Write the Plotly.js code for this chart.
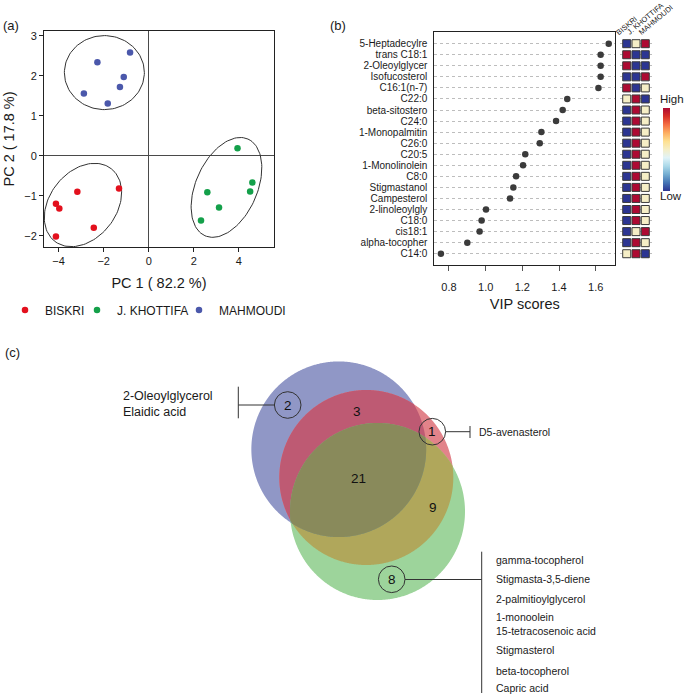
<!DOCTYPE html>
<html><head><meta charset="utf-8">
<script src="https://cdn.plot.ly/plotly-3.0.1.min.js"></script>
<style>html,body{margin:0;padding:0;background:#fff}#chart{width:685px;height:696px}</style>
</head><body><div id="chart"></div>
<script>
// ---------------- DATA ----------------
// (a) PCA scores
const groups = ['BISKRI', 'J. KHOTTIFA', 'MAHMOUDI'];
const biskriPC1 = [-4.12, -3.97, -3.17, -1.32, -2.44, -4.12];
const biskriPC2 = [-1.20, -1.32, -0.90, -0.82, -1.80, -2.02];
const khottifaPC1 = [3.94, 4.60, 4.50, 2.60, 3.12, 2.32];
const khottifaPC2 = [0.19, -0.67, -0.89, -0.91, -1.29, -1.62];
const mahmoudiPC1 = [-2.28, -0.83, -1.11, -1.28, -2.88, -1.82];
const mahmoudiPC2 = [2.34, 2.58, 1.97, 1.72, 1.56, 1.31];
const pcaXTicks = [-4, -2, 0, 2, 4];
const pcaYTicks = [-2, -1, 0, 1, 2, 3];

// (b) VIP scores
const compounds = ['5-Heptadecylre', 'trans C18:1', '2-Oleoylglycer', 'Isofucosterol', 'C16:1(n-7)',
  'C22:0', 'beta-sitostero', 'C24:0', '1-Monopalmitin', 'C26:0', 'C20:5', '1-Monolinolein', 'C8:0',
  'Stigmastanol', 'Campesterol', '2-linoleoylgly', 'C18:0', 'cis18:1', 'alpha-tocopher', 'C14:0'];
const vipScores = [1.671, 1.627, 1.627, 1.627, 1.615, 1.445, 1.420, 1.384, 1.304, 1.295, 1.216, 1.204,
  1.166, 1.151, 1.133, 1.002, 0.978, 0.967, 0.900, 0.756];
const vipTicks = [0.8, 1.0, 1.2, 1.4, 1.6];
// relative level per group: 0 = low, 1 = middle, 2 = high
const heatBiskri   = [0, 2, 2, 0, 2, 1, 0, 0, 0, 0, 0, 0, 0, 0, 0, 0, 0, 0, 0, 1];
const heatKhottifa = [1, 0, 0, 0, 0, 2, 2, 2, 2, 2, 2, 2, 2, 2, 2, 2, 2, 1, 2, 2];
const heatMahmoudi = [2, 0, 0, 2, 1, 0, 1, 1, 1, 1, 1, 1, 1, 1, 1, 1, 1, 2, 1, 0];

// (c) Venn diagram
const vennRegionCounts = ['2', '3', '1', '21', '9', '8'];
const onlyMahmoudi = ['2-Oleoylglycerol', 'Elaidic acid'];
const onlyBiskri = ['D5-avenasterol'];
const onlyKhottifa = ['gamma-tocopherol', 'Stigmasta-3,5-diene', '2-palmitioylglycerol', '1-monoolein',
  '15-tetracosenoic acid', 'Stigmasterol', 'beta-tocopherol', 'Capric acid'];

// ---------------- LAYOUT / STYLE ----------------
const W = 685, H = 696;
const FONT = "Arial, 'Liberation Sans', sans-serif";
const TXT = '#1a1a1a';
const px = v => v / W;
const py = v => 1 - v / H;
const groupColors = ['#e3101d', '#14a04a', '#4b58ab'];

const pcaDom = {x0: 44, x1: 274, y0: 31, y1: 247};
const pcaXRange = [-4.65, 5.56], pcaYRange = [-2.28, 3.12];
const pxPerX = (pcaDom.x1 - pcaDom.x0) / (pcaXRange[1] - pcaXRange[0]);
const pxPerY = (pcaDom.y1 - pcaDom.y0) / (pcaYRange[1] - pcaYRange[0]);

function ellipse(cx, cy, a, b, deg) {
  const th = deg * Math.PI / 180, xs = [], ys = [];
  for (let i = 0; i <= 120; i++) {
    const t = 2 * Math.PI * i / 120;
    const dx = a * Math.cos(t) * Math.cos(th) - b * Math.sin(t) * Math.sin(th);
    const dy = a * Math.cos(t) * Math.sin(th) + b * Math.sin(t) * Math.cos(th);
    xs.push(cx + dx / pxPerX); ys.push(cy + dy / pxPerY);
  }
  return {xs, ys};
}
// confidence ellipse geometry (centre in data units, semi-axes in px, angle)
const ellipseGeom = [
  {cx: -2.92, cy: -1.23, a: 46, b: 33.4, deg: 52},
  {cx: 3.45, cy: -0.79, a: 52.9, b: 30.7, deg: 66},
  {cx: -1.97, cy: 2.08, a: 40, b: 37, deg: 0}
];

const traces = [];
const pcaX = [biskriPC1, khottifaPC1, mahmoudiPC1];
const pcaY = [biskriPC2, khottifaPC2, mahmoudiPC2];
ellipseGeom.forEach(g => {
  const e = ellipse(g.cx, g.cy, g.a, g.b, g.deg);
  traces.push({type: 'scatter', mode: 'lines', x: e.xs, y: e.ys, xaxis: 'x', yaxis: 'y',
    line: {color: '#333', width: 1}, hoverinfo: 'skip', showlegend: false});
});
const legendNames = ['legend', 'legend2', 'legend3'];
groups.forEach((g, i) => {
  traces.push({type: 'scatter', mode: 'markers', name: g, x: pcaX[i], y: pcaY[i], xaxis: 'x', yaxis: 'y',
    marker: {color: groupColors[i], size: 6.5}, legend: legendNames[i]});
});

// VIP dots
traces.push({type: 'scatter', mode: 'markers', x: vipScores, y: compounds, xaxis: 'x2', yaxis: 'y2',
  marker: {color: '#3b3b3b', size: 6.5}, showlegend: false});
// heat cells
const heatCols = [heatBiskri, heatKhottifa, heatMahmoudi];
groups.forEach((g, i) => {
  traces.push({type: 'scatter', mode: 'markers', x: compounds.map(() => g), y: compounds,
    xaxis: 'x3', yaxis: 'y2', showlegend: false,
    marker: {symbol: 'square', size: 8, color: heatCols[i], coloraxis: 'coloraxis',
      line: {color: '#3a3a3a', width: 1}}});
});

const vipDom = {x0: 434.3, x1: 615.3, y0: 32.3, y1: 265};
const heatDom = {x0: 620.2, x1: 651.8};

// Venn geometry (pixel units on hidden axes): 0 = blue, 1 = red, 2 = green
const vennEll = [
  {cx: 338.75, cy: 449.25, rx: 87.4, ry: 87.8},
  {cx: 366.3, cy: 477.5, rx: 87.0, ry: 87.5},
  {cx: 377.5, cy: 511.5, rx: 87.5, ry: 88.5}
];
const vennFill = {
  '0': '#9097c6', '1': '#e2838a', '2': '#9dd49b',
  '01': '#be5a73', '12': '#b0a75b', '02': '#7f9a8f', '012': '#898a5b'
};
function inside(e, x, y) {
  const u = (x - e.cx) / e.rx, v = (y - e.cy) / e.ry;
  return u * u + v * v <= 1.0000001;
}
function regionPath(idxs) {
  const pts = [];
  idxs.forEach(i => {
    const e = vennEll[i];
    for (let k = 0; k < 720; k++) {
      const t = 2 * Math.PI * k / 720;
      const x = e.cx + e.rx * Math.cos(t), y = e.cy + e.ry * Math.sin(t);
      if (idxs.every(j => j === i || inside(vennEll[j], x, y))) pts.push([x, y]);
    }
  });
  if (pts.length < 3) return null;
  const mx = pts.reduce((s, p) => s + p[0], 0) / pts.length;
  const my = pts.reduce((s, p) => s + p[1], 0) / pts.length;
  pts.sort((a, b) => Math.atan2(a[1] - my, a[0] - mx) - Math.atan2(b[1] - my, b[0] - mx));
  return 'M' + pts.map(p => p[0].toFixed(2) + ',' + p[1].toFixed(2)).join('L') + 'Z';
}
const shapes = [];
[[0], [1], [2], [0, 1], [1, 2], [0, 2], [0, 1, 2]].forEach(idxs => {
  const path = regionPath(idxs);
  if (path) shapes.push({type: 'path', xref: 'x4', yref: 'y4', path, fillcolor: vennFill[idxs.join('')],
    line: {width: 0}, layer: 'above'});
});
const vennNumPos = [[287.7, 405], [356.7, 411.7], [432.3, 431.7], [358.3, 478.3], [432.7, 507.3], [391.7, 579.3]];
const circledIdx = [0, 2, 5];
circledIdx.forEach(i => {
  const [cx, cy] = vennNumPos[i], r = 13.3;
  shapes.push({type: 'circle', xref: 'x4', yref: 'y4', x0: cx - r, x1: cx + r, y0: cy - r, y1: cy + r,
    line: {color: '#333', width: 1}, fillcolor: 'rgba(0,0,0,0)', layer: 'above'});
});
const ln = (x0, y0, x1, y1) => shapes.push({type: 'line', xref: 'x4', yref: 'y4', x0, y0, x1, y1,
  line: {color: '#333', width: 1}, layer: 'above'});
ln(238.3, 405, 274.4, 405); ln(238.3, 386.7, 238.3, 418.3);
ln(445.6, 431.7, 470, 431.7); ln(470, 426, 470, 438);
ln(405, 579.5, 481.7, 579.5); ln(481.7, 551.7, 481.7, 693);

const annotations = [];
const ann = (x, y, text, size, xanchor = 'center', extra = {}) => annotations.push(Object.assign({
  xref: 'paper', yref: 'paper', x: px(x), y: py(y), text, showarrow: false, xanchor, yanchor: 'middle',
  font: {family: FONT, size, color: TXT}}, extra));
ann(11, 25, '(a)', 13);
ann(338, 25, '(b)', 13);
ann(12, 352, '(c)', 13);
ann(658, 99, 'High', 11.5, 'left');
ann(658, 196, 'Low', 11.5, 'left');
// rotated group headers above heat columns
const headerX = [613, 624, 636];
groups.forEach((g, i) => ann(headerX[i], 38, g, 7.5, 'left', {yanchor: 'bottom', textangle: -40, borderpad: 0}));
vennRegionCounts.forEach((t, i) => annotations.push({xref: 'x4', yref: 'y4', x: vennNumPos[i][0], y: vennNumPos[i][1],
  text: t, showarrow: false, font: {family: FONT, size: 13.5, color: '#111'}}));
const mahY = [395.7, 411.7];
onlyMahmoudi.forEach((t, i) => annotations.push({xref: 'x4', yref: 'y4', x: 121, y: mahY[i], text: t,
  xanchor: 'left', showarrow: false, font: {family: FONT, size: 12.5, color: TXT}}));
annotations.push({xref: 'x4', yref: 'y4', x: 477, y: 432, text: onlyBiskri[0], xanchor: 'left',
  showarrow: false, font: {family: FONT, size: 10.5, color: TXT}});
const khoY = [560, 579.3, 599, 617.3, 631, 650, 670.5, 687.7];
onlyKhottifa.forEach((t, i) => annotations.push({xref: 'x4', yref: 'y4', x: 494, y: khoY[i], text: t,
  xanchor: 'left', showarrow: false, font: {family: FONT, size: 10.5, color: TXT}}));

const legendText = [47, 119, 221];
const legends = {};
legendNames.forEach((n, i) => {
  legends[n] = {x: px(legendText[i] - 42), xanchor: 'left', y: py(310), yanchor: 'middle', orientation: 'h',
    bgcolor: 'rgba(0,0,0,0)', borderwidth: 0, font: {family: FONT, size: 12, color: TXT}};
});

const layout = Object.assign({
  width: W, height: H, margin: {l: 0, r: 0, t: 0, b: 0},
  paper_bgcolor: '#fff', plot_bgcolor: 'rgba(0,0,0,0)',
  font: {family: FONT, color: TXT},
  showlegend: true,
  xaxis: {domain: [px(pcaDom.x0), px(pcaDom.x1)], range: pcaXRange, anchor: 'y', tickvals: pcaXTicks,
    showgrid: false, zeroline: true, zerolinecolor: '#4a4a4a', zerolinewidth: 1,
    showline: true, mirror: true, linecolor: '#222', linewidth: 1, ticks: 'outside', ticklen: 4, tickcolor: '#222',
    tickfont: {size: 11, family: FONT, color: TXT},
    title: {text: 'PC 1 ( 82.2 %)', font: {size: 14.5, family: FONT, color: TXT}, standoff: 11}},
  yaxis: {domain: [py(pcaDom.y1), py(pcaDom.y0)], range: pcaYRange, anchor: 'x', tickvals: pcaYTicks,
    showgrid: false, zeroline: true, zerolinecolor: '#4a4a4a', zerolinewidth: 1,
    showline: true, mirror: true, linecolor: '#222', linewidth: 1, ticks: 'outside', ticklen: 4, tickcolor: '#222',
    tickfont: {size: 11, family: FONT, color: TXT},
    title: {text: 'PC 2 ( 17.8 %)', font: {size: 14.5, family: FONT, color: TXT}, standoff: 6}},
  xaxis2: {domain: [px(vipDom.x0), px(vipDom.x1)], range: [0.72, 1.707], anchor: 'y2', tickvals: vipTicks,
    tickformat: '.1f', showgrid: false, zeroline: false, showline: true, mirror: true, linecolor: '#222',
    ticks: 'outside', ticklen: 5, tickcolor: '#555', ticklabelstandoff: 7,
    tickfont: {size: 11, family: FONT, color: TXT},
    title: {text: 'VIP scores', font: {size: 14.5, family: FONT, color: TXT}, standoff: 6}},
  yaxis2: {domain: [py(vipDom.y1), py(vipDom.y0)], type: 'category', categoryarray: compounds,
    categoryorder: 'array', range: [20.02, -1.03], anchor: 'x2', tickmode: 'array', tickvals: compounds,
    ticktext: compounds, showgrid: true, gridcolor: '#bdbdbd',
    griddash: 'dot', gridwidth: 1, zeroline: false, showline: true, mirror: true, linecolor: '#222',
    ticks: '', tickfont: {size: 10, family: FONT, color: TXT}, ticklabelstandoff: 4},
  xaxis3: {domain: [px(heatDom.x0), px(heatDom.x1)], type: 'category', categoryarray: groups,
    categoryorder: 'array', range: [-0.7, 2.7], anchor: 'y2', side: 'top', showticklabels: false,
    showgrid: false, zeroline: false, showline: false, ticks: ''},
  xaxis4: {domain: [0, 1], range: [0, W], anchor: 'y4', visible: false, fixedrange: true},
  yaxis4: {domain: [0, py(335)], range: [H, 335], anchor: 'x4', visible: false, fixedrange: true},
  coloraxis: {cmin: 0, cmax: 2,
    colorscale: [[0, '#2c3592'], [0.1, '#4575b4'], [0.2, '#74add1'], [0.3, '#abd9e9'], [0.4, '#e0f3f8'],
      [0.5, '#f5eec6'], [0.6, '#fee090'], [0.7, '#fdae61'], [0.8, '#f46d43'], [0.9, '#d73027'], [1, '#ad0a32']],
    colorbar: {x: px(662.7), xanchor: 'left', y: py(149), yanchor: 'middle', len: 83, lenmode: 'pixels',
      thickness: 7, thicknessmode: 'pixels', outlinewidth: 0, showticklabels: false, ticks: '', xpad: 0, ypad: 0}},
  shapes, annotations
}, legends);

Plotly.newPlot('chart', traces, layout, {displayModeBar: false, staticPlot: true});
</script></body></html>
